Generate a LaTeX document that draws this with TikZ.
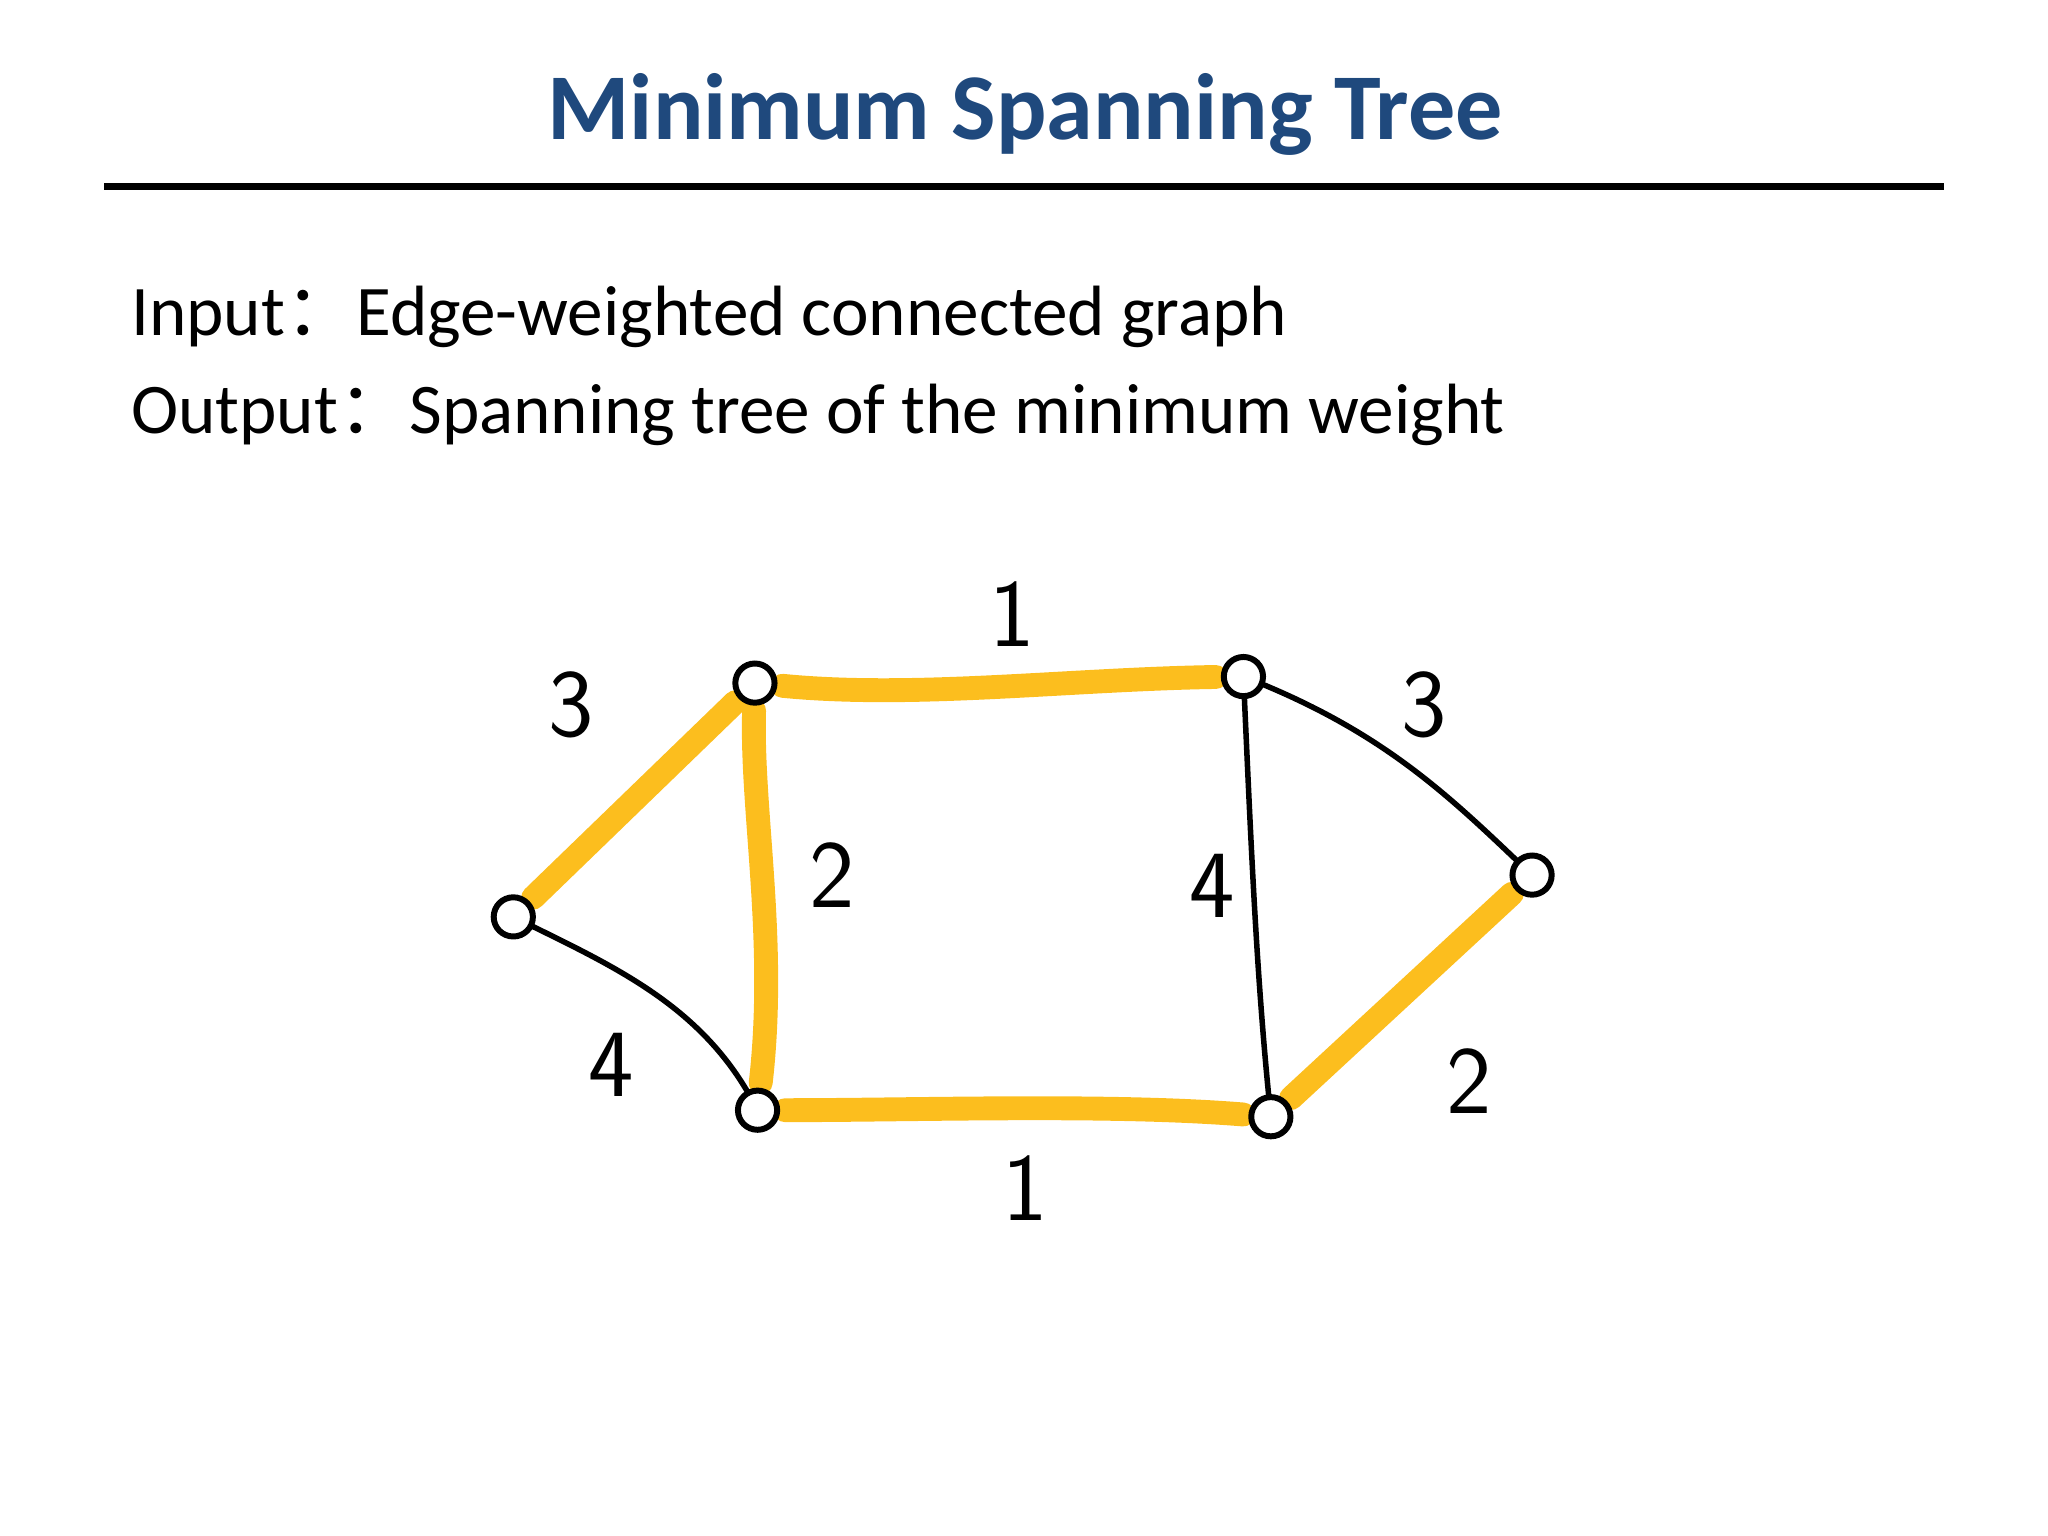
\documentclass[tikz,border=0pt]{standalone}
\usepackage{fontspec}
\setmainfont{Carlito}
\newfontfamily\cjk{Noto Sans CJK SC}
\begin{document}
\begin{tikzpicture}[x=0.01cm,y=-0.01cm,
  vtx/.style={circle,draw=black,line width=1.3pt,minimum size=0.3cm,inner sep=0pt,fill=white},
  mst/.style={line width=5.2pt,draw={rgb,255:red,252;green,190;blue,30},line cap=round,shorten <=6pt,shorten >=6pt},
  plain/.style={line width=1.2pt,draw=black},
  wt/.style={font=\fontsize{21}{24}\selectfont\sffamily}]
\useasboundingbox (0,0) rectangle (1568,1176);
\node[font=\bfseries\fontsize{20.5}{24}\selectfont,text={rgb,255:red,31;green,73;blue,125}] (title) at (785,88) {Minimum Spanning Tree};
\draw[line width=1.5pt] (80,143) coordinate (l1) -- (1488,143) coordinate (l2);
\node[anchor=west,font=\fontsize{15.5}{18}\selectfont] (in) at (88,243) {Input{\cjk ：}Edge-weighted connected graph};
\node[anchor=west,font=\fontsize{15.5}{18}\selectfont] (out) at (88,318) {Output{\cjk ：}Spanning tree of the minimum weight};
\coordinate (A) at (578,523);
\coordinate (B) at (952,518);
\coordinate (C) at (393,702);
\coordinate (D) at (580,850);
\coordinate (E) at (973,855);
\coordinate (F) at (1173,670);
\draw[plain] (C) .. controls (470,740) and (540,770) .. (D);
\draw[plain] (B) .. controls (958,650) and (962,750) .. (E);
\draw[plain] (B) .. controls (1060,560) and (1110,610) .. (F);
\draw[mst] (C) -- (A);
\draw[mst] (A) .. controls (575,620) and (595,720) .. (D);
\draw[mst] (A) .. controls (700,535) and (820,520) .. (B);
\draw[mst] (D) .. controls (700,850) and (850,845) .. (E);
\draw[mst] (E) -- (F);
\foreach \n in {A,B,C,D,E,F} \node[vtx] (v\n) at (\n) {};
\node[wt] (w1) at (437,540) {3};
\node[wt] (w2) at (775,470) {1};
\node[wt] (w3) at (1090,540) {3};
\node[wt] (w4) at (637,670) {2};
\node[wt] (w5) at (928,678) {4};
\node[wt] (w6) at (468,815) {4};
\node[wt] (w7) at (785,910) {1};
\node[wt] (w8) at (1125,828) {2};
\end{tikzpicture}
\end{document}
